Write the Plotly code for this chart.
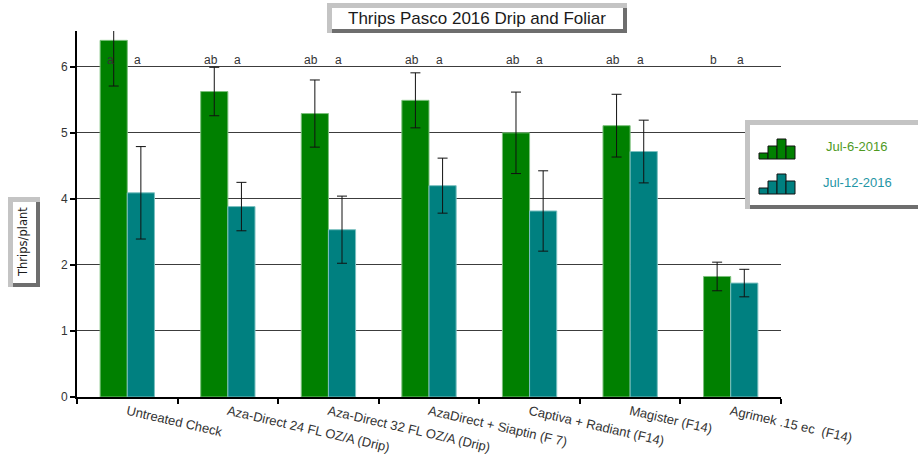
import plotly.graph_objects as go

# ---------------- data ----------------
categories = [
    "Untreated Check",
    "Aza-Direct 24 FL OZ/A (Drip)",
    "Aza-Direct 32 FL OZ/A (Drip)",
    "AzaDirect + Siaptin (F 7)",
    "Captiva + Radiant (F14)",
    "Magister (F14)",
    "Agrimek .15 ec \u00a0(F14)",
]
series_names = ["Jul-6-2016", "Jul-12-2016"]
jul6_values = [6.48, 5.55, 5.15, 5.39, 4.80, 4.93, 2.19]
jul6_errors = [0.83, 0.44, 0.61, 0.50, 0.74, 0.57, 0.26]
jul12_values = [3.71, 3.46, 3.04, 3.84, 3.38, 4.46, 2.07]
jul12_errors = [0.84, 0.44, 0.61, 0.50, 0.73, 0.57, 0.25]
jul6_letters = ["a", "ab", "ab", "ab", "ab", "ab", "b"]
jul12_letters = ["a", "a", "a", "a", "a", "a", "a"]
letter_level = 6.13
y_tick_values = [0, 1.2, 2.4, 3.6, 4.8, 6.0]
y_tick_labels = ["0", "1", "2", "4", "5", "6"]
y_title = "Thrips/plant"
chart_title = "Thrips Pasco 2016 Drip and Foliar"

# ---------------- style ----------------
GREEN = "#008000"
TEAL = "#008080"
FONT = "Liberation Sans, Arial, sans-serif"
W, H = 918, 460
L, R, T, B = 77, 781, 31, 397


def xp(px):
    return (px - L) / (R - L)


def yp(py):
    return (B - py) / (B - T)


fig = go.Figure()
fig.add_trace(go.Bar(
    x=categories, y=jul6_values, name=series_names[0],
    marker=dict(color=GREEN, line=dict(color="#7cc07c", width=1)),
    error_y=dict(type="data", array=jul6_errors, color="#111111", thickness=1, width=5),
    showlegend=False, hoverinfo="skip",
))
fig.add_trace(go.Bar(
    x=categories, y=jul12_values, name=series_names[1],
    marker=dict(color=TEAL, line=dict(color="#7cc0c0", width=1)),
    error_y=dict(type="data", array=jul12_errors, color="#111111", thickness=1, width=5),
    showlegend=False, hoverinfo="skip",
))

annotations = []
for c, l6, l12 in zip(categories, jul6_letters, jul12_letters):
    annotations.append(dict(x=c, y=letter_level, text=l6, showarrow=False, xshift=-17,
                            font=dict(family=FONT, size=12, color="#333333")))
    annotations.append(dict(x=c, y=letter_level, text=l12, showarrow=False, xshift=10,
                            font=dict(family=FONT, size=12, color="#333333")))

shapes = []


def bevel_box(x0, y0, x1, y1, b=5, light="#c4c4c4", dark="#6e6e6e"):
    shapes.append(dict(type="rect", xref="paper", yref="paper", layer="above",
                       x0=xp(x0), x1=xp(x1), y0=yp(y1), y1=yp(y0),
                       fillcolor=light, line=dict(width=0)))
    shapes.append(dict(type="rect", xref="paper", yref="paper", layer="above",
                       x0=xp(x0 + b), x1=xp(x1), y0=yp(y1), y1=yp(y1 - b + 1),
                       fillcolor=dark, line=dict(width=0)))
    shapes.append(dict(type="rect", xref="paper", yref="paper", layer="above",
                       x0=xp(x1 - b + 1), x1=xp(x1), y0=yp(y1), y1=yp(y0 + b),
                       fillcolor=dark, line=dict(width=0)))
    shapes.append(dict(type="rect", xref="paper", yref="paper", layer="above",
                       x0=xp(x0 + b), x1=xp(x1 - b + 1), y0=yp(y1 - b + 1), y1=yp(y0 + b),
                       fillcolor="white", line=dict(width=0)))


# title box
bevel_box(327, 3, 627, 33, b=5)
annotations.append(dict(xref="paper", yref="paper", x=xp(477), y=yp(18.5), text=chart_title,
                        showarrow=False, xanchor="center", yanchor="middle",
                        font=dict(family=FONT, size=17, color="#1a1a1a")))

# y-axis title box
bevel_box(8, 197, 40, 287, b=5)
annotations.append(dict(xref="paper", yref="paper", x=xp(23), y=yp(242), text=y_title,
                        showarrow=False, textangle=-90, xanchor="center", yanchor="middle",
                        font=dict(family="DejaVu Sans, Verdana, sans-serif", size=11.5,
                                  color="#1a1a1a")))

# legend box
bevel_box(745, 120, 930, 209, b=5)


def legend_icon(x0, ybase, color, heights):
    widths = [(0, 9), (9, 18), (18, 27), (27, 36)]
    for (a, b2), h in zip(widths, heights):
        shapes.append(dict(type="rect", xref="paper", yref="paper", layer="above",
                           x0=xp(x0 + a), x1=xp(x0 + b2), y0=yp(ybase), y1=yp(ybase - h),
                           fillcolor=color, line=dict(color="#111111", width=1)))


legend_icon(759, 159, GREEN, [6, 13, 20, 13])
legend_icon(759, 194, TEAL, [6, 13, 20, 13])
annotations.append(dict(xref="paper", yref="paper", x=xp(856), y=yp(146), text=series_names[0],
                        showarrow=False, xanchor="center", yanchor="middle",
                        font=dict(family=FONT, size=13, color="#4f9a1f")))
annotations.append(dict(xref="paper", yref="paper", x=xp(857), y=yp(182), text=series_names[1],
                        showarrow=False, xanchor="center", yanchor="middle",
                        font=dict(family=FONT, size=13, color="#1f95a5")))

fig.update_layout(
    width=W, height=H,
    margin=dict(l=L, r=W - R, t=T, b=H - B),
    paper_bgcolor="white", plot_bgcolor="white",
    barmode="group", bargap=0.46, bargroupgap=0,
    font=dict(family=FONT, size=12, color="#333333"),
    annotations=annotations, shapes=shapes,
    showlegend=False,
)
fig.update_xaxes(
    type="category", range=[-0.5, 6.5], automargin=False,
    showline=True, linecolor="#000000", linewidth=2,
    ticks="outside", tickson="boundaries", ticklen=5, tickwidth=2, tickcolor="#000000",
    tickangle=13, tickfont=dict(family=FONT, size=13, color="#333333"),
    showgrid=False,
)
fig.update_yaxes(
    range=[0, 6.65], automargin=False,
    tickmode="array", tickvals=y_tick_values, ticktext=y_tick_labels,
    showline=True, linecolor="#000000", linewidth=2,
    ticks="outside", ticklen=5, tickwidth=1.5, tickcolor="#000000",
    tickfont=dict(family=FONT, size=12, color="#333333"),
    showgrid=True, gridcolor="#3c3c3c", gridwidth=1, zeroline=False,
)

fig.write_html("out.html", config={"displayModeBar": False},
               post_script="document.body.style.margin='0';")
